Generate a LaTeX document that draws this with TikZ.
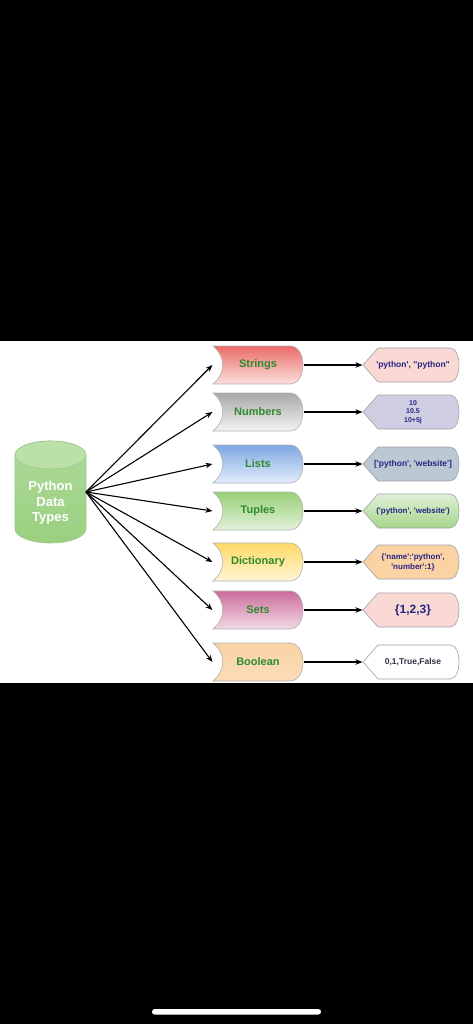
\documentclass[tikz,border=0pt]{standalone}
\usepackage{fontspec}
\setmainfont{Liberation Sans}[Ligatures=TeXOff]
\usepackage{tikz}
\usetikzlibrary{arrows.meta}
\definecolor{labelgreen}{HTML}{2E8B2E}
\definecolor{labelblue}{HTML}{262680}
\definecolor{dbtop}{HTML}{AEDA99}
\definecolor{dbbot}{HTML}{9ACF80}
\definecolor{dbcap}{HTML}{BBE1A8}
\definecolor{dbline}{HTML}{9CC98A}
\definecolor{strtop}{HTML}{EA6B66}
\definecolor{strbot}{HTML}{FBE0DF}
\definecolor{numtop}{HTML}{A8A8A8}
\definecolor{numbot}{HTML}{F4F4F4}
\definecolor{lsttop}{HTML}{7EA6E0}
\definecolor{lstbot}{HTML}{E3EEFD}
\definecolor{tuptop}{HTML}{97D077}
\definecolor{tupbot}{HTML}{E2F1DA}
\definecolor{dictop}{HTML}{FFD966}
\definecolor{dicbot}{HTML}{FFF5D6}
\definecolor{settop}{HTML}{CD6B9C}
\definecolor{setbot}{HTML}{F1DAE6}
\definecolor{booltop}{HTML}{F9D3A6}
\definecolor{boolbot}{HTML}{FBDDB9}
\definecolor{strvfill}{HTML}{FAD9D5}
\definecolor{numvfill}{HTML}{D0CEE2}
\definecolor{lstvfill}{HTML}{BAC8D3}
\definecolor{tupvtop}{HTML}{DFF0D8}
\definecolor{tupvbot}{HTML}{A5D68A}
\definecolor{dicvfill}{HTML}{FAD2A3}
\definecolor{valline}{HTML}{A0A0A8}
\definecolor{boolgrey}{HTML}{333344}
\tikzset{
	typebox/.style = {rectangle, minimum width=90pt, minimum height=38pt, inner sep=0pt,
		text=labelgreen, font=\fontsize{11}{13}\selectfont\bfseries},
	valbox/.style  = {rectangle, minimum width=100pt, minimum height=34pt, inner sep=0pt,
		align=center, text=labelblue, font=\fontsize{8.5}{10}\selectfont\bfseries},
	dbtext/.style  = {align=center, text=white, font=\fontsize{13}{15.5}\selectfont\bfseries},
	input/.style   = {coordinate} % arrow source
}
\newcommand{\storedshape}[3]{%
	\shade[top color=#2, bottom color=#3, draw=black!30, line width=0.6pt]
	(213,#1-19) -- (290,#1-19) .. controls (299,#1-19) and (303,#1-9) .. (303,#1)
	.. controls (303,#1+9) and (299,#1+19) .. (290,#1+19) -- (213,#1+19)
	.. controls (226,#1+8) and (226,#1-8) .. (213,#1-19) -- cycle;}
\newcommand{\displayshape}[4]{%
	\shade[top color=#2, bottom color=#3, draw=#4, line width=0.6pt]
	(363,#1) -- (378,#1-17) -- (450,#1-17) .. controls (462,#1-17) and (462,#1+17) .. (450,#1+17)
	-- (378,#1+17) -- cycle;}

\begin{document}
\begin{tikzpicture}[x=1pt, y=-1pt, line width=1.1pt, >={Stealth[length=7pt,width=5.5pt]}]
\useasboundingbox (0,0) rectangle (473,1024);
\fill[black] (0,0) rectangle (473,1024);
\fill[white] (0,341) rectangle (473,683);
\fill[white, rounded corners=2.7pt] (152,1009) rectangle (321,1014.5);

% database
\shade[top color=dbtop, bottom color=dbbot, draw=dbline, line width=0.6pt]
(15,455) -- (15,529) arc[start angle=180, end angle=0, x radius=35.5, y radius=14]
-- (86,455) arc[start angle=0, end angle=-180, x radius=35.5, y radius=14] -- cycle;
\filldraw[fill=dbcap, draw=dbline, line width=0.6pt] (50.5,455) ellipse[x radius=35.5, y radius=14];

\storedshape{365}{strtop}{strbot}
\storedshape{412}{numtop}{numbot}
\storedshape{464}{lsttop}{lstbot}
\storedshape{511}{tuptop}{tupbot}
\storedshape{562}{dictop}{dicbot}
\storedshape{610}{settop}{setbot}
\storedshape{662}{booltop}{boolbot}

\displayshape{365}{strvfill}{strvfill}{valline}
\displayshape{412}{numvfill}{numvfill}{valline}
\displayshape{464}{lstvfill}{lstvfill}{valline}
\displayshape{511}{tupvtop}{tupvbot}{valline}
\displayshape{562}{dicvfill}{dicvfill}{valline}
\displayshape{610}{strvfill}{strvfill}{valline}
\displayshape{662}{white}{white}{valline}

\draw
node at (50.5,503) [dbtext] (db) {Python\\Data\\Types}
node at (86,492) [input] (src) {}
node at (258,365) [typebox] (str) {Strings}
node at (258,412) [typebox] (num) {Numbers}
node at (258,464) [typebox] (lst) {Lists}
node at (258,511) [typebox] (tup) {Tuples}
node at (258,562) [typebox] (dic) {Dictionary}
node at (258,610) [typebox] (set) {Sets}
node at (258,662) [typebox] (bool) {Boolean}
node at (413,365) [valbox] (strv) {'python', "python"}
node at (413,412) [valbox, font=\fontsize{7}{8.5}\selectfont\bfseries] (numv) {10\\10.5\\10+5j}
node at (413,464) [valbox] (lstv) {['python', 'website']}
node at (413,511) [valbox, font=\fontsize{8}{10}\selectfont\bfseries] (tupv) {('python', 'website')}
node at (413,562) [valbox, font=\fontsize{8}{10}\selectfont\bfseries] (dicv) {\{'name':'python',\\'number':1\}}
node at (413,610) [valbox, font=\fontsize{12}{14}\selectfont\bfseries] (setv) {\{1,2,3\}}
node at (413,662) [valbox, text=boolgrey] (boolv) {0,1,True,False};

\draw[->](src)--(str.west);
\draw[->](src)--(num.west);
\draw[->](src)--(lst.west);
\draw[->](src)--(tup.west);
\draw[->](src)--(dic.west);
\draw[->](src)--(set.west);
\draw[->](src)--(bool.west);
\draw[->](str)--(strv);
\draw[->](num)--(numv);
\draw[->](lst)--(lstv);
\draw[->](tup)--(tupv);
\draw[->](dic)--(dicv);
\draw[->](set)--(setv);
\draw[->](bool)--(boolv);
\end{tikzpicture}
\end{document}
